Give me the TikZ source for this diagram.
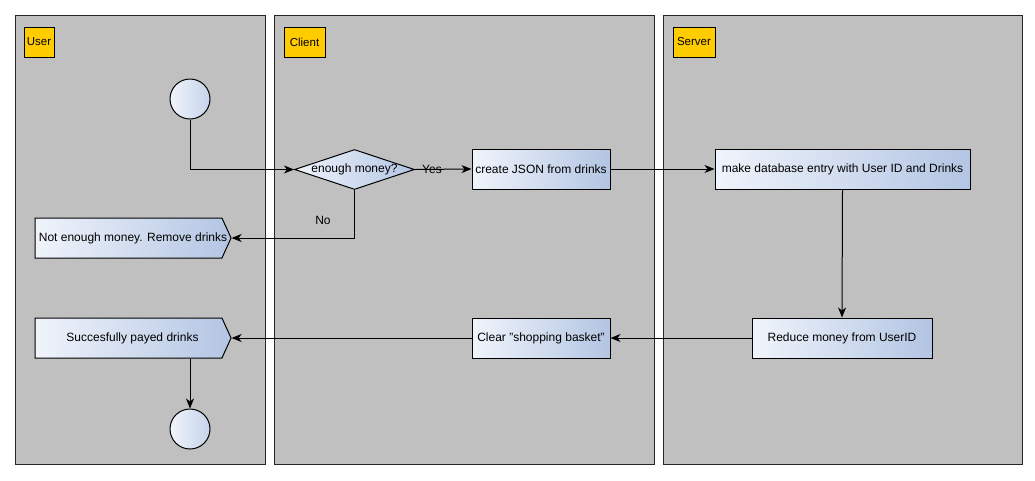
\documentclass[tikz,border=0pt]{standalone}
\usepackage{fontspec}
\setmainfont{Liberation Sans}
\usetikzlibrary{shapes.geometric,shapes.symbols,arrows.meta}
\definecolor{lanegray}{HTML}{C0C0C0}
\definecolor{gold}{HTML}{FFCC00}
\definecolor{nodelight}{HTML}{F0F4FB}
\definecolor{nodedark}{HTML}{B3C5E3}
\tikzset{
  lane/.style={draw=black!85, fill=lanegray, line width=1pt},
  lanelabel/.style={draw=black, fill=gold, line width=0.8pt, minimum width=30pt, minimum height=30pt, inner sep=1pt, font=\fontsize{11.5}{13}\selectfont},
  actbox/.style={draw=black, line width=1pt, left color=nodelight, right color=nodedark, inner sep=2pt, minimum height=40pt, font=\fontsize{12}{14}\selectfont},
  sigbox/.style={signal, signal to=east, signal pointer angle=131, draw=black, line width=1pt, left color=nodelight, right color=nodedark, minimum width=196pt, minimum height=40pt, inner sep=0pt},
  sigtext/.style={inner sep=0pt, font=\fontsize{12}{14}\selectfont},
  decis/.style={diamond, aspect=3, draw=black, line width=1pt, left color=nodelight, right color=nodedark, inner sep=0pt, minimum width=120pt, minimum height=40pt, font=\fontsize{12}{14}\selectfont},
  startend/.style={circle, draw=black, line width=1pt, left color=nodelight, right color=nodedark!70!nodelight, minimum size=40pt, inner sep=0pt},
  flow/.style={draw=black, line width=1pt, -{Stealth[length=10pt,width=8pt,inset=3pt]}},
  lbl/.style={font=\fontsize{12}{14}\selectfont, inner sep=1pt}
}
\begin{document}
\begin{tikzpicture}[x=1pt,y=-1pt]
\path[use as bounding box, fill=white] (0,0) rectangle (1035,480);
% lanes
\path[lane] (15,15) rectangle (265,464);
\path[lane] (274,15) rectangle (654,464);
\path[lane] (663,15) rectangle (1022,464);
\node[lanelabel] (luser) at (39,42) {User};
\node[lanelabel, minimum width=41pt] (lclient) at (304.5,42) {Client};
\node[lanelabel, minimum width=42pt] (lserver) at (694,42) {Server};
% nodes
\node[startend] (start) at (190,99) {};
\node[decis] (dec) at (354.5,169.5) {enough money?};
\node[actbox, minimum width=138pt] (json) at (541,169) {create JSON from drinks};
\node[actbox, minimum width=255pt] (db) at (842.5,169) {make database entry with User ID and Drinks};
\node[actbox, minimum width=180pt] (reduce) at (842,338) {Reduce money from UserID};
\node[actbox, minimum width=138pt] (clear) at (541,338) {Clear "shopping basket"};
\node[sigbox] (notenough) at (128.5,238) {};
\node[sigtext] (notenoughtext) at (133,238) {Not enough money. Remove drinks};
\node[sigbox] (success) at (128.5,338) {};
\node[sigtext] (successtext) at (132.5,338) {Succesfully payed drinks};
\node[startend] (end) at (190,429) {};
% connectors
\draw[flow] (start.south) |- (dec.west);
\draw[flow] (dec.east) -- node[lbl, pos=0.3] (yes) {Yes} (json.west);
\draw[flow] (json.east) -- (db.west);
\draw[flow] (db.south) -- (reduce.north);
\draw[flow] (reduce.west) -- (clear.east);
\draw[flow] (clear.west) -- (success.east);
\draw[flow] (dec.south) |- (notenough.east);
\node[lbl] (no) at (323,220) {No};
\draw[flow] (success.south -| end.north) -- (end.north);
\end{tikzpicture}
\end{document}
